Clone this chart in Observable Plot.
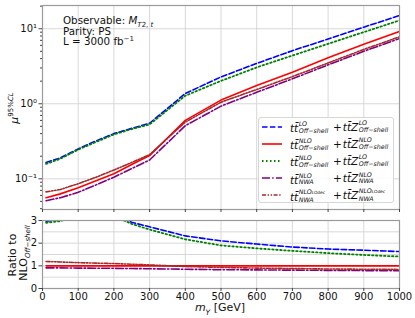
<!DOCTYPE html>
<html><head><meta charset="utf-8">
<script src="https://cdn.jsdelivr.net/npm/d3@7"></script>
<script src="https://cdn.jsdelivr.net/npm/@observablehq/plot@0.6"></script>
<style>
body{margin:0;background:#fff;font-family:"DejaVu Sans",sans-serif;color:#111;}
#wrap{position:relative;width:415px;height:318px;overflow:hidden;background:#fff;}
#topP,#botP{position:absolute;left:0;}
#topP{top:0}
#botP{top:213px}
.ann{position:absolute;left:63px;top:15px;font-size:10.3px;line-height:10.7px;white-space:nowrap;}
.ann sub,.ann sup{font-size:7px;line-height:0;}
.rot{position:absolute;transform:translate(-50%,-50%) rotate(-90deg);white-space:nowrap;font-size:11px;line-height:12px;}
.xl{position:absolute;left:220px;top:309px;transform:translate(-50%,-50%);font-size:11px;white-space:nowrap;}
#legend{position:absolute;left:258px;top:117px;width:136px;height:86px;border:1px solid #d6d6d6;border-radius:3px;background:rgba(255,255,255,0.85);box-sizing:border-box;}
.row{height:17.2px;display:flex;align-items:center;white-space:nowrap;}
.row svg{margin-left:3px;margin-right:8px;flex:none;}
.p1{display:inline-block;width:43px;}
.m{font-style:italic;font-size:10.5px;}
.stk{display:inline-flex;flex-direction:column;vertical-align:middle;font-style:italic;font-size:6.3px;line-height:6.6px;margin-left:0.5px;}
.stk small{font-size:4.3px;}
.pl{font-size:10.5px;margin-right:1px;}
</style></head><body>
<div id="wrap">
<div id="topP"></div>
<div id="botP"></div>
<div class="ann">Observable: <i>M</i><sub><i>T</i>2, <i>t</i></sub><br>Parity: PS<br>L = 3000 fb<sup>−1</sup></div>
<div class="rot" style="left:13px;top:108px;"><i>μ</i><sup style="font-size:7px;">95%<i>CL</i></sup></div>
<div class="rot" style="left:13px;top:255px;">Ratio to</div>
<div class="rot" style="left:26px;top:253px;">NLO<span style="font-size:7px;vertical-align:-2.5px;"><i>Off−shell</i></span></div>
<div class="xl"><i>m<sub style="font-size:7.5px;">Y</sub></i> [GeV]</div>
<div id="legend"></div>
</div>
<script>
// mass points (GeV)
const mY = [10, 50, 100, 150, 200, 250, 300, 400, 500, 600, 700, 800, 900, 1000];
// mu^{95% CL} upper limits
const muLOoff   = [0.165, 0.19, 0.25, 0.32, 0.40, 0.47, 0.55, 1.37, 2.28, 3.45, 5.1, 7.3, 10.5, 15.0];
const muNLOoff  = [0.056, 0.063, 0.076, 0.094, 0.117, 0.155, 0.204, 0.60, 1.12, 1.75, 2.64, 4.1, 6.2, 9.2];
const muMixOff  = [0.158, 0.185, 0.245, 0.31, 0.39, 0.46, 0.53, 1.28, 2.02, 3.05, 4.4, 6.3, 9.0, 12.9];
const muNWA     = [0.051, 0.056, 0.066, 0.083, 0.105, 0.137, 0.178, 0.51, 0.93, 1.42, 2.15, 3.3, 5.0, 7.4];
const muNWAdec  = [0.067, 0.072, 0.086, 0.105, 0.131, 0.165, 0.21, 0.57, 1.05, 1.55, 2.3, 3.5, 5.3, 7.8];
// ratio to NLO off-shell
const rLOoff   = [2.97, 3.02, 3.3, 3.35, 3.25, 2.92, 2.72, 2.32, 2.1, 1.96, 1.83, 1.74, 1.69, 1.63];
const rNLOoff  = [1, 1, 1, 1, 1, 1, 1, 1, 1, 1, 1, 1, 1, 1];
const rMixOff  = [2.9, 2.97, 3.25, 3.3, 3.2, 2.85, 2.6, 2.17, 1.9, 1.77, 1.66, 1.56, 1.48, 1.41];
const rNWA     = [0.91, 0.91, 0.90, 0.895, 0.89, 0.88, 0.87, 0.85, 0.83, 0.82, 0.81, 0.80, 0.79, 0.79];
const rNWAdec  = [1.19, 1.17, 1.14, 1.12, 1.10, 1.07, 1.04, 0.97, 0.93, 0.90, 0.88, 0.86, 0.85, 0.84];
// tick values
const xTicks = [0, 100, 200, 300, 400, 500, 600, 700, 800, 900, 1000];
const yTopTicks = [0.1, 1, 10];
const yTopLabels = ["10⁻¹", "10⁰", "10¹"];
const yBotTicks = [0, 1, 2, 3];
const yBotGrid = [0, 0.5, 1, 1.5, 2, 2.5, 3];

(function () {
const styles = [
  {key: "LOoff",  stroke: "#0000ff", dash: "5.5,2.4", w: 1.6},
  {key: "NLOoff", stroke: "#ff0000", dash: null, w: 1.6},
  {key: "MixOff", stroke: "#008000", dash: "1.5,2.5", w: 1.8},
  {key: "NWA",    stroke: "#800080", dash: "8,2.2,1.5,2.2", w: 1.6},
  {key: "NWAdec", stroke: "#a52a2a", dash: "4,1.6,1.4,1.6,1.4,1.6", w: 1.6}
];
const topSeries = {LOoff: muLOoff, NLOoff: muNLOoff, MixOff: muMixOff, NWA: muNWA, NWAdec: muNWAdec};
const botSeries = {LOoff: rLOoff, NLOoff: rNLOoff, MixOff: rMixOff, NWA: rNWA, NWAdec: rNWAdec};
const drawOrder = ["LOoff", "NLOoff", "MixOff", "NWA", "NWAdec"];

function lines(series, clip) {
  return drawOrder.map(k => {
    const s = styles.find(d => d.key === k);
    const data = mY.map((x, i) => ({x, y: series[k][i]}));
    return Plot.line(data, {x: "x", y: "y", stroke: s.stroke, strokeWidth: s.w,
      strokeDasharray: s.dash || undefined, clip, strokeLinejoin: "round"});
  });
}

const baseStyle = {fontFamily: "DejaVu Sans, sans-serif", fontSize: "10px", color: "#111", background: "transparent"};

const minor = [];
for (let e = -2; e <= 1; e++) for (let k = 2; k <= 9; k++) {
  const v = k * Math.pow(10, e);
  if (v > 0.039 && v < 20.3) minor.push(v);
}
const topLabelOf = d => {
  const i = yTopTicks.findIndex(t => Math.abs(t - d) / t < 1e-6);
  return i >= 0 ? yTopLabels[i] : "";
};

const topPlot = Plot.plot({
  width: 415, height: 213, marginTop: 5, marginBottom: 4, marginLeft: 42, marginRight: 16,
  style: baseStyle,
  x: {domain: [0, 1000]},
  y: {type: "log", domain: [0.039, 20.4]},
  marks: [
    Plot.gridX(xTicks, {stroke: "#d4d4d4", strokeOpacity: 1, strokeWidth: 0.9}),
    Plot.gridY(yTopTicks, {stroke: "#d4d4d4", strokeOpacity: 1, strokeWidth: 0.9}),
    ...lines(topSeries, true),
    Plot.frame({stroke: "#9a9a9a", strokeWidth: 1.2}),
    Plot.axisX({ticks: xTicks, tickFormat: () => "", tickSize: 3, stroke: "#444", label: null}),
    Plot.axisY({ticks: minor, tickFormat: () => "", tickSize: 2, stroke: "#444", label: null}),
    Plot.axisY({ticks: yTopTicks, tickFormat: topLabelOf, tickSize: 3.5, tickPadding: 2, stroke: "#444", label: null})
  ]
});
document.getElementById("topP").appendChild(topPlot);

const botPlot = Plot.plot({
  width: 415, height: 105, marginTop: 7, marginBottom: 30, marginLeft: 42, marginRight: 16,
  style: baseStyle,
  x: {domain: [0, 1000]},
  y: {domain: [0, 3]},
  marks: [
    Plot.gridX(xTicks, {stroke: "#d4d4d4", strokeOpacity: 1, strokeWidth: 0.9}),
    Plot.gridY(yBotGrid, {stroke: "#d4d4d4", strokeOpacity: 1, strokeWidth: 0.9}),
    ...lines(botSeries, true),
    Plot.frame({stroke: "#9a9a9a", strokeWidth: 1.2}),
    Plot.axisX({ticks: xTicks, tickFormat: d => String(d), tickSize: 3, tickPadding: 1.5, stroke: "#444", label: null}),
    Plot.axisY({ticks: yBotTicks, tickFormat: d => String(d), tickSize: 3.5, tickPadding: 2, stroke: "#444", label: null})
  ]
});
document.getElementById("botP").appendChild(botPlot);

// legend
const legendRows = [
  {key: "LOoff",  a: ["LO", "Off−shell"], b: ["LO", "Off−shell"]},
  {key: "NLOoff", a: ["NLO", "Off−shell"], b: ["NLO", "Off−shell"]},
  {key: "MixOff", a: ["NLO", "Off−shell"], b: ["LO", "Off−shell"]},
  {key: "NWA",    a: ["NLO", "NWA"], b: ["NLO", "NWA"]},
  {key: "NWAdec", a: ["NLO<small>LOdec</small>", "NWA"], b: ["NLO<small>LOdec</small>", "NWA"]}
];
const leg = document.getElementById("legend");
legendRows.forEach(r => {
  const s = styles.find(d => d.key === r.key);
  const row = document.createElement("div");
  row.className = "row";
  row.innerHTML =
    `<svg width="20" height="4"><line x1="0" y1="2" x2="20" y2="2" stroke="${s.stroke}" stroke-width="${s.w}" ${s.dash ? `stroke-dasharray="${s.dash}"` : ""}/></svg>` +
    `<span class="p1"><span class="m">tt̄</span><span class="stk"><span>${r.a[0]}</span><span>${r.a[1]}</span></span></span>` +
    `<span class="pl">+</span><span class="m">tt̄Z</span><span class="stk"><span>${r.b[0]}</span><span>${r.b[1]}</span></span>`;
  leg.appendChild(row);
});
})();
</script>
</body></html>
